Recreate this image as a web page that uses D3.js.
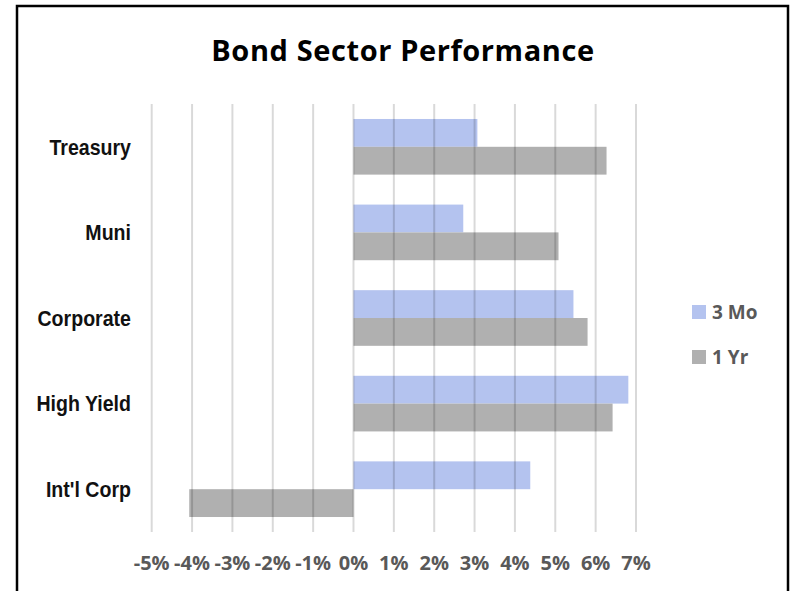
<!DOCTYPE html>
<html>
<head>
  <meta charset="utf-8">
  <script src="https://d3js.org/d3.v7.min.js"></script>
</head>
<style>
  body { margin: 0; background: #fff; }
  svg { display: block; }
  .cat { font-family: "Liberation Sans", Arial, sans-serif; font-weight: bold; font-size: 22px; fill: #111; }
  .tick-label { font-family: "Open Sans", "Liberation Sans", sans-serif; font-weight: bold; font-size: 20px; fill: #595959; }
  .legend-text { font-family: "Open Sans", "Liberation Sans", sans-serif; font-weight: bold; font-size: 19px; fill: #595959; }
  .title { font-family: "Open Sans", "Liberation Sans", sans-serif; font-weight: bold; font-size: 29px; letter-spacing: 0.6px; fill: #000; }
</style>
<body>
  <svg id="chart" width="792" height="591"></svg>
  <script>
    const categories = ["Treasury", "Muni", "Corporate", "High Yield", "Int'l Corp"]
    const seriesNames = ["3 Mo", "1 Yr"]
    const threeMo = [3.07, 2.72, 5.45, 6.81, 4.38]
    const oneYr = [6.27, 5.08, 5.80, 6.42, -4.07]
    const ticks = [-5, -4, -3, -2, -1, 0, 1, 2, 3, 4, 5, 6, 7]
    const colors = ["#b4c3ef", "#b0b0b0"]

    const svg = d3.select("#chart")

    // frame
    svg.append("rect")
      .attr("x", 17).attr("y", 6)
      .attr("width", 771).attr("height", 600)
      .attr("fill", "none").attr("stroke", "#000").attr("stroke-width", 2.5)

    svg.append("text")
      .attr("class", "title")
      .attr("x", 403).attr("y", 61)
      .attr("text-anchor", "middle")
      .text("Bond Sector Performance")

    const x = d3.scaleLinear().domain([-5, 7]).range([151.7, 636])
    const y = d3.scaleBand().domain(categories).range([104, 532]).paddingInner(0.35).paddingOuter(0.175)
    const ySub = d3.scaleBand().domain(seriesNames).range([0, y.bandwidth()])

    const rows = categories.map((c, i) => ({ cat: c, values: [threeMo[i], oneYr[i]] }))

    const groups = svg.append("g").selectAll("g")
      .data(rows).join("g")
      .attr("transform", d => `translate(0,${y(d.cat)})`)

    groups.selectAll("rect")
      .data(d => d.values.map((v, j) => ({ v: v, s: seriesNames[j], c: colors[j] })))
      .join("rect")
      .attr("x", d => x(Math.min(0, d.v)))
      .attr("width", d => Math.abs(x(d.v) - x(0)))
      .attr("y", d => ySub(d.s))
      .attr("height", ySub.bandwidth())
      .attr("fill", d => d.c)

    // gridlines on top, semi transparent like the original
    svg.append("g").selectAll("line")
      .data(ticks).join("line")
      .attr("x1", d => x(d)).attr("x2", d => x(d))
      .attr("y1", 104).attr("y2", 532)
      .attr("stroke", "rgba(0,0,0,0.15)")
      .attr("stroke-width", 2)

    // x tick labels
    svg.append("g").selectAll("text")
      .data(ticks).join("text")
      .attr("class", "tick-label")
      .attr("x", d => x(d)).attr("y", 570)
      .attr("text-anchor", "middle")
      .text(d => d + "%")

    // category labels (narrow face, so squeeze horizontally)
    svg.append("g").selectAll("text")
      .data(categories).join("text")
      .attr("class", "cat")
      .attr("transform", d => `translate(131,${y(d) + y.bandwidth() / 2}) scale(0.89,1)`)
      .attr("dy", "0.35em")
      .attr("text-anchor", "end")
      .text(d => d)

    // legend
    const legend = svg.append("g").selectAll("g")
      .data(seriesNames).join("g")
      .attr("transform", (d, i) => `translate(692,${305 + i * 45})`)
    legend.append("rect")
      .attr("width", 14).attr("height", 14)
      .attr("fill", (d, i) => colors[i])
    legend.append("text")
      .attr("class", "legend-text")
      .attr("x", 20).attr("y", 7).attr("dy", "0.36em")
      .text(d => d)
  </script>
</body>
</html>
